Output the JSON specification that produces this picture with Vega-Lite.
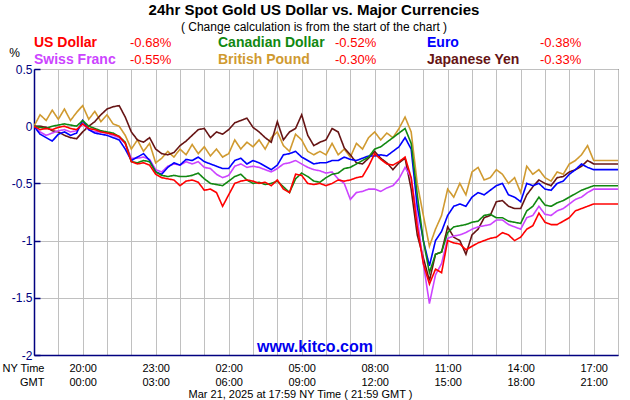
{
"$schema": "https://vega.github.io/schema/vega-lite/v6.json",
"width": 584, "height": 286,
"autosize": {"type": "none"},
"padding": {"left": 34, "top": 69, "right": 12, "bottom": 45},
"background": "white",
"config": {"font": "Liberation Sans", "view": {"stroke": "black", "strokeWidth": 1}, "axisX": {"labelOverlap": false}},
"title": {"text": "24hr Spot Gold US Dollar vs. Major Currencies", "subtitle": "( Change calculation is from the start of the chart )", "fontSize": 15, "fontWeight": "bold", "color": "black", "subtitleFontSize": 12, "subtitleColor": "black", "subtitlePadding": 4, "anchor": "middle", "dx": -12, "dy": 1},
"resolve": {"axis": {"x": "independent", "y": "independent"}},
"layer": [
{
"data": {"values": [
{"c":"British Pound","h":0,"v":0},{"c":"British Pound","h":0.25,"v":0.1},{"c":"British Pound","h":0.5,"v":0.05},{"c":"British Pound","h":0.75,"v":0.14},{"c":"British Pound","h":1,"v":0.06},{"c":"British Pound","h":1.25,"v":0.15},{"c":"British Pound","h":1.5,"v":0.05},{"c":"British Pound","h":1.75,"v":0.12},{"c":"British Pound","h":2,"v":0.18},{"c":"British Pound","h":2.25,"v":0.06},{"c":"British Pound","h":2.5,"v":0.13},{"c":"British Pound","h":2.75,"v":0.04},{"c":"British Pound","h":3,"v":0.1},{"c":"British Pound","h":3.25,"v":0.02},{"c":"British Pound","h":3.5,"v":0.0},{"c":"British Pound","h":3.75,"v":-0.08},
{"c":"British Pound","h":4,"v":-0.2},{"c":"British Pound","h":4.25,"v":-0.12},{"c":"British Pound","h":4.5,"v":-0.22},{"c":"British Pound","h":4.75,"v":-0.15},{"c":"British Pound","h":5,"v":-0.32},{"c":"British Pound","h":5.25,"v":-0.28},{"c":"British Pound","h":5.5,"v":-0.22},{"c":"British Pound","h":5.75,"v":-0.27},{"c":"British Pound","h":6,"v":-0.2},{"c":"British Pound","h":6.25,"v":-0.25},{"c":"British Pound","h":6.5,"v":-0.16},{"c":"British Pound","h":6.75,"v":-0.24},{"c":"British Pound","h":7,"v":-0.18},{"c":"British Pound","h":7.25,"v":-0.26},{"c":"British Pound","h":7.5,"v":-0.2},{"c":"British Pound","h":7.75,"v":-0.27},
{"c":"British Pound","h":8,"v":-0.24},{"c":"British Pound","h":8.25,"v":-0.12},{"c":"British Pound","h":8.5,"v":-0.2},{"c":"British Pound","h":8.75,"v":-0.14},{"c":"British Pound","h":9,"v":-0.18},{"c":"British Pound","h":9.25,"v":-0.12},{"c":"British Pound","h":9.5,"v":-0.2},{"c":"British Pound","h":9.75,"v":-0.1},{"c":"British Pound","h":10,"v":-0.05},{"c":"British Pound","h":10.25,"v":-0.17},{"c":"British Pound","h":10.5,"v":-0.22},{"c":"British Pound","h":10.75,"v":-0.07},{"c":"British Pound","h":11,"v":-0.12},{"c":"British Pound","h":11.25,"v":-0.22},{"c":"British Pound","h":11.5,"v":-0.25},{"c":"British Pound","h":11.75,"v":-0.22},
{"c":"British Pound","h":12,"v":-0.25},{"c":"British Pound","h":12.25,"v":-0.15},{"c":"British Pound","h":12.5,"v":-0.25},{"c":"British Pound","h":12.75,"v":-0.2},{"c":"British Pound","h":13,"v":-0.27},{"c":"British Pound","h":13.25,"v":-0.15},{"c":"British Pound","h":13.5,"v":-0.2},{"c":"British Pound","h":13.75,"v":-0.1},{"c":"British Pound","h":14,"v":-0.05},{"c":"British Pound","h":14.25,"v":-0.12},{"c":"British Pound","h":14.5,"v":-0.06},{"c":"British Pound","h":14.75,"v":-0.1},{"c":"British Pound","h":15,"v":-0.02},{"c":"British Pound","h":15.25,"v":0.08},{"c":"British Pound","h":15.5,"v":-0.05},{"c":"British Pound","h":15.75,"v":-0.5},
{"c":"British Pound","h":16,"v":-0.78},{"c":"British Pound","h":16.25,"v":-1.05},{"c":"British Pound","h":16.5,"v":-0.9},{"c":"British Pound","h":16.75,"v":-0.78},{"c":"British Pound","h":17,"v":-0.55},{"c":"British Pound","h":17.25,"v":-0.62},{"c":"British Pound","h":17.5,"v":-0.5},{"c":"British Pound","h":17.75,"v":-0.6},{"c":"British Pound","h":18,"v":-0.4},{"c":"British Pound","h":18.25,"v":-0.36},{"c":"British Pound","h":18.5,"v":-0.47},{"c":"British Pound","h":18.75,"v":-0.45},{"c":"British Pound","h":19,"v":-0.38},{"c":"British Pound","h":19.25,"v":-0.42},{"c":"British Pound","h":19.5,"v":-0.5},{"c":"British Pound","h":19.75,"v":-0.45},
{"c":"British Pound","h":20,"v":-0.58},{"c":"British Pound","h":20.25,"v":-0.35},{"c":"British Pound","h":20.5,"v":-0.42},{"c":"British Pound","h":20.75,"v":-0.38},{"c":"British Pound","h":21,"v":-0.45},{"c":"British Pound","h":21.25,"v":-0.48},{"c":"British Pound","h":21.5,"v":-0.4},{"c":"British Pound","h":21.75,"v":-0.42},{"c":"British Pound","h":22,"v":-0.33},{"c":"British Pound","h":22.25,"v":-0.3},{"c":"British Pound","h":22.5,"v":-0.25},{"c":"British Pound","h":22.75,"v":-0.17},{"c":"British Pound","h":23,"v":-0.3},{"c":"British Pound","h":24,"v":-0.3},

{"c":"Japanese Yen","h":0,"v":0},{"c":"Japanese Yen","h":0.25,"v":0.0},{"c":"Japanese Yen","h":0.5,"v":-0.01},{"c":"Japanese Yen","h":0.75,"v":-0.04},{"c":"Japanese Yen","h":1,"v":-0.05},{"c":"Japanese Yen","h":1.25,"v":-0.08},{"c":"Japanese Yen","h":1.5,"v":-0.1},{"c":"Japanese Yen","h":1.75,"v":-0.11},{"c":"Japanese Yen","h":2,"v":-0.05},{"c":"Japanese Yen","h":2.25,"v":0.0},{"c":"Japanese Yen","h":2.5,"v":0.04},{"c":"Japanese Yen","h":2.75,"v":0.1},{"c":"Japanese Yen","h":3,"v":0.15},{"c":"Japanese Yen","h":3.25,"v":0.17},{"c":"Japanese Yen","h":3.5,"v":0.18},{"c":"Japanese Yen","h":3.75,"v":0.08},
{"c":"Japanese Yen","h":4,"v":-0.05},{"c":"Japanese Yen","h":4.25,"v":-0.12},{"c":"Japanese Yen","h":4.5,"v":-0.14},{"c":"Japanese Yen","h":4.75,"v":-0.1},{"c":"Japanese Yen","h":5,"v":-0.2},{"c":"Japanese Yen","h":5.25,"v":-0.24},{"c":"Japanese Yen","h":5.5,"v":-0.25},{"c":"Japanese Yen","h":5.75,"v":-0.23},{"c":"Japanese Yen","h":6,"v":-0.17},{"c":"Japanese Yen","h":6.25,"v":-0.13},{"c":"Japanese Yen","h":6.5,"v":-0.08},{"c":"Japanese Yen","h":6.75,"v":-0.03},{"c":"Japanese Yen","h":7,"v":-0.02},{"c":"Japanese Yen","h":7.25,"v":-0.1},{"c":"Japanese Yen","h":7.5,"v":-0.05},{"c":"Japanese Yen","h":7.75,"v":-0.07},
{"c":"Japanese Yen","h":8,"v":-0.03},{"c":"Japanese Yen","h":8.25,"v":0.03},{"c":"Japanese Yen","h":8.5,"v":0.05},{"c":"Japanese Yen","h":8.75,"v":0.07},{"c":"Japanese Yen","h":9,"v":-0.01},{"c":"Japanese Yen","h":9.25,"v":-0.05},{"c":"Japanese Yen","h":9.5,"v":-0.1},{"c":"Japanese Yen","h":9.75,"v":-0.14},{"c":"Japanese Yen","h":10,"v":0.04},{"c":"Japanese Yen","h":10.25,"v":-0.12},{"c":"Japanese Yen","h":10.5,"v":-0.05},{"c":"Japanese Yen","h":10.75,"v":-0.02},{"c":"Japanese Yen","h":11,"v":0.1},{"c":"Japanese Yen","h":11.25,"v":-0.08},{"c":"Japanese Yen","h":11.5,"v":-0.17},{"c":"Japanese Yen","h":11.75,"v":-0.14},
{"c":"Japanese Yen","h":12,"v":-0.12},{"c":"Japanese Yen","h":12.25,"v":-0.02},{"c":"Japanese Yen","h":12.5,"v":-0.05},{"c":"Japanese Yen","h":12.75,"v":-0.19},{"c":"Japanese Yen","h":13,"v":-0.25},{"c":"Japanese Yen","h":13.25,"v":-0.32},{"c":"Japanese Yen","h":13.5,"v":-0.33},{"c":"Japanese Yen","h":13.75,"v":-0.28},{"c":"Japanese Yen","h":14,"v":-0.22},{"c":"Japanese Yen","h":14.25,"v":-0.28},{"c":"Japanese Yen","h":14.5,"v":-0.32},{"c":"Japanese Yen","h":14.75,"v":-0.38},{"c":"Japanese Yen","h":15,"v":-0.32},{"c":"Japanese Yen","h":15.25,"v":-0.28},{"c":"Japanese Yen","h":15.5,"v":-0.55},{"c":"Japanese Yen","h":15.75,"v":-0.95},
{"c":"Japanese Yen","h":16,"v":-1.15},{"c":"Japanese Yen","h":16.25,"v":-1.35},{"c":"Japanese Yen","h":16.5,"v":-1.12},{"c":"Japanese Yen","h":16.75,"v":-1.1},{"c":"Japanese Yen","h":17,"v":-0.88},{"c":"Japanese Yen","h":17.25,"v":-0.97},{"c":"Japanese Yen","h":17.5,"v":-1.0},{"c":"Japanese Yen","h":17.75,"v":-1.12},{"c":"Japanese Yen","h":18,"v":-0.95},{"c":"Japanese Yen","h":18.25,"v":-0.9},{"c":"Japanese Yen","h":18.5,"v":-0.8},{"c":"Japanese Yen","h":18.75,"v":-0.78},{"c":"Japanese Yen","h":19,"v":-0.66},{"c":"Japanese Yen","h":19.25,"v":-0.65},{"c":"Japanese Yen","h":19.5,"v":-0.7},{"c":"Japanese Yen","h":19.75,"v":-0.72},
{"c":"Japanese Yen","h":20,"v":-0.72},{"c":"Japanese Yen","h":20.25,"v":-0.6},{"c":"Japanese Yen","h":20.5,"v":-0.53},{"c":"Japanese Yen","h":20.75,"v":-0.47},{"c":"Japanese Yen","h":21,"v":-0.5},{"c":"Japanese Yen","h":21.25,"v":-0.52},{"c":"Japanese Yen","h":21.5,"v":-0.45},{"c":"Japanese Yen","h":21.75,"v":-0.44},{"c":"Japanese Yen","h":22,"v":-0.4},{"c":"Japanese Yen","h":22.25,"v":-0.38},{"c":"Japanese Yen","h":22.5,"v":-0.35},{"c":"Japanese Yen","h":22.75,"v":-0.3},{"c":"Japanese Yen","h":23,"v":-0.33},{"c":"Japanese Yen","h":24,"v":-0.33},

{"c":"Swiss Franc","h":0,"v":0},{"c":"Swiss Franc","h":0.25,"v":-0.05},{"c":"Swiss Franc","h":0.5,"v":-0.08},{"c":"Swiss Franc","h":0.75,"v":-0.06},{"c":"Swiss Franc","h":1,"v":-0.04},{"c":"Swiss Franc","h":1.25,"v":-0.03},{"c":"Swiss Franc","h":1.5,"v":-0.05},{"c":"Swiss Franc","h":1.75,"v":-0.04},{"c":"Swiss Franc","h":2,"v":0.02},{"c":"Swiss Franc","h":2.25,"v":-0.03},{"c":"Swiss Franc","h":2.5,"v":-0.05},{"c":"Swiss Franc","h":2.75,"v":-0.05},{"c":"Swiss Franc","h":3,"v":-0.06},{"c":"Swiss Franc","h":3.25,"v":-0.08},{"c":"Swiss Franc","h":3.5,"v":-0.1},{"c":"Swiss Franc","h":3.75,"v":-0.15},
{"c":"Swiss Franc","h":4,"v":-0.28},{"c":"Swiss Franc","h":4.25,"v":-0.28},{"c":"Swiss Franc","h":4.5,"v":-0.27},{"c":"Swiss Franc","h":4.75,"v":-0.29},{"c":"Swiss Franc","h":5,"v":-0.38},{"c":"Swiss Franc","h":5.25,"v":-0.4},{"c":"Swiss Franc","h":5.5,"v":-0.35},{"c":"Swiss Franc","h":5.75,"v":-0.33},{"c":"Swiss Franc","h":6,"v":-0.34},{"c":"Swiss Franc","h":6.25,"v":-0.31},{"c":"Swiss Franc","h":6.5,"v":-0.33},{"c":"Swiss Franc","h":6.75,"v":-0.31},{"c":"Swiss Franc","h":7,"v":-0.36},{"c":"Swiss Franc","h":7.25,"v":-0.37},{"c":"Swiss Franc","h":7.5,"v":-0.42},{"c":"Swiss Franc","h":7.75,"v":-0.45},
{"c":"Swiss Franc","h":8,"v":-0.43},{"c":"Swiss Franc","h":8.25,"v":-0.35},{"c":"Swiss Franc","h":8.5,"v":-0.33},{"c":"Swiss Franc","h":8.75,"v":-0.36},{"c":"Swiss Franc","h":9,"v":-0.35},{"c":"Swiss Franc","h":9.25,"v":-0.36},{"c":"Swiss Franc","h":9.5,"v":-0.38},{"c":"Swiss Franc","h":9.75,"v":-0.4},{"c":"Swiss Franc","h":10,"v":-0.37},{"c":"Swiss Franc","h":10.25,"v":-0.33},{"c":"Swiss Franc","h":10.5,"v":-0.32},{"c":"Swiss Franc","h":10.75,"v":-0.3},{"c":"Swiss Franc","h":11,"v":-0.33},{"c":"Swiss Franc","h":11.25,"v":-0.36},{"c":"Swiss Franc","h":11.5,"v":-0.38},{"c":"Swiss Franc","h":11.75,"v":-0.39},
{"c":"Swiss Franc","h":12,"v":-0.41},{"c":"Swiss Franc","h":12.25,"v":-0.4},{"c":"Swiss Franc","h":12.5,"v":-0.46},{"c":"Swiss Franc","h":12.75,"v":-0.5},{"c":"Swiss Franc","h":13,"v":-0.64},{"c":"Swiss Franc","h":13.25,"v":-0.58},{"c":"Swiss Franc","h":13.5,"v":-0.57},{"c":"Swiss Franc","h":13.75,"v":-0.55},{"c":"Swiss Franc","h":14,"v":-0.55},{"c":"Swiss Franc","h":14.25,"v":-0.57},{"c":"Swiss Franc","h":14.5,"v":-0.54},{"c":"Swiss Franc","h":14.75,"v":-0.52},{"c":"Swiss Franc","h":15,"v":-0.46},{"c":"Swiss Franc","h":15.25,"v":-0.36},{"c":"Swiss Franc","h":15.5,"v":-0.45},{"c":"Swiss Franc","h":15.75,"v":-0.8},
{"c":"Swiss Franc","h":16,"v":-1.2},{"c":"Swiss Franc","h":16.25,"v":-1.55},{"c":"Swiss Franc","h":16.5,"v":-1.3},{"c":"Swiss Franc","h":16.75,"v":-1.2},{"c":"Swiss Franc","h":17,"v":-0.98},{"c":"Swiss Franc","h":17.25,"v":-0.96},{"c":"Swiss Franc","h":17.5,"v":-0.95},{"c":"Swiss Franc","h":17.75,"v":-0.93},{"c":"Swiss Franc","h":18,"v":-0.9},{"c":"Swiss Franc","h":18.25,"v":-0.88},{"c":"Swiss Franc","h":18.5,"v":-0.87},{"c":"Swiss Franc","h":18.75,"v":-0.86},{"c":"Swiss Franc","h":19,"v":-0.82},{"c":"Swiss Franc","h":19.25,"v":-0.82},{"c":"Swiss Franc","h":19.5,"v":-0.86},{"c":"Swiss Franc","h":19.75,"v":-0.88},
{"c":"Swiss Franc","h":20,"v":-0.9},{"c":"Swiss Franc","h":20.25,"v":-0.8},{"c":"Swiss Franc","h":20.5,"v":-0.78},{"c":"Swiss Franc","h":20.75,"v":-0.7},{"c":"Swiss Franc","h":21,"v":-0.77},{"c":"Swiss Franc","h":21.25,"v":-0.78},{"c":"Swiss Franc","h":21.5,"v":-0.74},{"c":"Swiss Franc","h":21.75,"v":-0.72},{"c":"Swiss Franc","h":22,"v":-0.68},{"c":"Swiss Franc","h":22.25,"v":-0.64},{"c":"Swiss Franc","h":22.5,"v":-0.62},{"c":"Swiss Franc","h":22.75,"v":-0.58},{"c":"Swiss Franc","h":23,"v":-0.55},{"c":"Swiss Franc","h":24,"v":-0.55},

{"c":"Euro","h":0,"v":0},{"c":"Euro","h":0.25,"v":-0.07},{"c":"Euro","h":0.5,"v":-0.1},{"c":"Euro","h":0.75,"v":-0.13},{"c":"Euro","h":1,"v":-0.07},{"c":"Euro","h":1.25,"v":-0.05},{"c":"Euro","h":1.5,"v":-0.08},{"c":"Euro","h":1.75,"v":-0.06},{"c":"Euro","h":2,"v":0.05},{"c":"Euro","h":2.25,"v":-0.03},{"c":"Euro","h":2.5,"v":-0.06},{"c":"Euro","h":2.75,"v":-0.07},{"c":"Euro","h":3,"v":-0.08},{"c":"Euro","h":3.25,"v":-0.1},{"c":"Euro","h":3.5,"v":-0.12},{"c":"Euro","h":3.75,"v":-0.2},
{"c":"Euro","h":4,"v":-0.3},{"c":"Euro","h":4.25,"v":-0.27},{"c":"Euro","h":4.5,"v":-0.24},{"c":"Euro","h":4.75,"v":-0.3},{"c":"Euro","h":5,"v":-0.4},{"c":"Euro","h":5.25,"v":-0.42},{"c":"Euro","h":5.5,"v":-0.36},{"c":"Euro","h":5.75,"v":-0.32},{"c":"Euro","h":6,"v":-0.34},{"c":"Euro","h":6.25,"v":-0.29},{"c":"Euro","h":6.5,"v":-0.3},{"c":"Euro","h":6.75,"v":-0.27},{"c":"Euro","h":7,"v":-0.31},{"c":"Euro","h":7.25,"v":-0.33},{"c":"Euro","h":7.5,"v":-0.35},{"c":"Euro","h":7.75,"v":-0.37},
{"c":"Euro","h":8,"v":-0.37},{"c":"Euro","h":8.25,"v":-0.3},{"c":"Euro","h":8.5,"v":-0.28},{"c":"Euro","h":8.75,"v":-0.33},{"c":"Euro","h":9,"v":-0.3},{"c":"Euro","h":9.25,"v":-0.32},{"c":"Euro","h":9.5,"v":-0.35},{"c":"Euro","h":9.75,"v":-0.38},{"c":"Euro","h":10,"v":-0.34},{"c":"Euro","h":10.25,"v":-0.25},{"c":"Euro","h":10.5,"v":-0.24},{"c":"Euro","h":10.75,"v":-0.22},{"c":"Euro","h":11,"v":-0.27},{"c":"Euro","h":11.25,"v":-0.3},{"c":"Euro","h":11.5,"v":-0.33},{"c":"Euro","h":11.75,"v":-0.32},
{"c":"Euro","h":12,"v":-0.32},{"c":"Euro","h":12.25,"v":-0.3},{"c":"Euro","h":12.5,"v":-0.3},{"c":"Euro","h":12.75,"v":-0.27},{"c":"Euro","h":13,"v":-0.29},{"c":"Euro","h":13.25,"v":-0.3},{"c":"Euro","h":13.5,"v":-0.28},{"c":"Euro","h":13.75,"v":-0.26},{"c":"Euro","h":14,"v":-0.26},{"c":"Euro","h":14.25,"v":-0.25},{"c":"Euro","h":14.5,"v":-0.26},{"c":"Euro","h":14.75,"v":-0.22},{"c":"Euro","h":15,"v":-0.18},{"c":"Euro","h":15.25,"v":-0.1},{"c":"Euro","h":15.5,"v":-0.2},{"c":"Euro","h":15.75,"v":-0.7},
{"c":"Euro","h":16,"v":-1.0},{"c":"Euro","h":16.25,"v":-1.22},{"c":"Euro","h":16.5,"v":-1.0},{"c":"Euro","h":16.75,"v":-0.92},{"c":"Euro","h":17,"v":-0.78},{"c":"Euro","h":17.25,"v":-0.7},{"c":"Euro","h":17.5,"v":-0.68},{"c":"Euro","h":17.75,"v":-0.7},{"c":"Euro","h":18,"v":-0.62},{"c":"Euro","h":18.25,"v":-0.58},{"c":"Euro","h":18.5,"v":-0.6},{"c":"Euro","h":18.75,"v":-0.56},{"c":"Euro","h":19,"v":-0.52},{"c":"Euro","h":19.25,"v":-0.5},{"c":"Euro","h":19.5,"v":-0.6},{"c":"Euro","h":19.75,"v":-0.62},
{"c":"Euro","h":20,"v":-0.66},{"c":"Euro","h":20.25,"v":-0.5},{"c":"Euro","h":20.5,"v":-0.52},{"c":"Euro","h":20.75,"v":-0.5},{"c":"Euro","h":21,"v":-0.55},{"c":"Euro","h":21.25,"v":-0.56},{"c":"Euro","h":21.5,"v":-0.5},{"c":"Euro","h":21.75,"v":-0.48},{"c":"Euro","h":22,"v":-0.42},{"c":"Euro","h":22.25,"v":-0.38},{"c":"Euro","h":22.5,"v":-0.33},{"c":"Euro","h":22.75,"v":-0.36},{"c":"Euro","h":23,"v":-0.38},{"c":"Euro","h":24,"v":-0.38},

{"c":"Canadian Dollar","h":0,"v":0},{"c":"Canadian Dollar","h":0.25,"v":-0.01},{"c":"Canadian Dollar","h":0.5,"v":-0.02},{"c":"Canadian Dollar","h":0.75,"v":0.0},{"c":"Canadian Dollar","h":1,"v":0.01},{"c":"Canadian Dollar","h":1.25,"v":0.02},{"c":"Canadian Dollar","h":1.5,"v":0.01},{"c":"Canadian Dollar","h":1.75,"v":0.0},{"c":"Canadian Dollar","h":2,"v":0.05},{"c":"Canadian Dollar","h":2.25,"v":0.0},{"c":"Canadian Dollar","h":2.5,"v":-0.02},{"c":"Canadian Dollar","h":2.75,"v":-0.04},{"c":"Canadian Dollar","h":3,"v":-0.05},{"c":"Canadian Dollar","h":3.25,"v":-0.06},{"c":"Canadian Dollar","h":3.5,"v":-0.09},{"c":"Canadian Dollar","h":3.75,"v":-0.14},
{"c":"Canadian Dollar","h":4,"v":-0.31},{"c":"Canadian Dollar","h":4.25,"v":-0.32},{"c":"Canadian Dollar","h":4.5,"v":-0.3},{"c":"Canadian Dollar","h":4.75,"v":-0.31},{"c":"Canadian Dollar","h":5,"v":-0.4},{"c":"Canadian Dollar","h":5.25,"v":-0.43},{"c":"Canadian Dollar","h":5.5,"v":-0.44},{"c":"Canadian Dollar","h":5.75,"v":-0.43},{"c":"Canadian Dollar","h":6,"v":-0.44},{"c":"Canadian Dollar","h":6.25,"v":-0.44},{"c":"Canadian Dollar","h":6.5,"v":-0.43},{"c":"Canadian Dollar","h":6.75,"v":-0.41},{"c":"Canadian Dollar","h":7,"v":-0.46},{"c":"Canadian Dollar","h":7.25,"v":-0.5},{"c":"Canadian Dollar","h":7.5,"v":-0.51},{"c":"Canadian Dollar","h":7.75,"v":-0.52},
{"c":"Canadian Dollar","h":8,"v":-0.48},{"c":"Canadian Dollar","h":8.25,"v":-0.44},{"c":"Canadian Dollar","h":8.5,"v":-0.42},{"c":"Canadian Dollar","h":8.75,"v":-0.47},{"c":"Canadian Dollar","h":9,"v":-0.5},{"c":"Canadian Dollar","h":9.25,"v":-0.49},{"c":"Canadian Dollar","h":9.5,"v":-0.51},{"c":"Canadian Dollar","h":9.75,"v":-0.5},{"c":"Canadian Dollar","h":10,"v":-0.48},{"c":"Canadian Dollar","h":10.25,"v":-0.53},{"c":"Canadian Dollar","h":10.5,"v":-0.58},{"c":"Canadian Dollar","h":10.75,"v":-0.46},{"c":"Canadian Dollar","h":11,"v":-0.41},{"c":"Canadian Dollar","h":11.25,"v":-0.44},{"c":"Canadian Dollar","h":11.5,"v":-0.48},{"c":"Canadian Dollar","h":11.75,"v":-0.49},
{"c":"Canadian Dollar","h":12,"v":-0.45},{"c":"Canadian Dollar","h":12.25,"v":-0.42},{"c":"Canadian Dollar","h":12.5,"v":-0.41},{"c":"Canadian Dollar","h":12.75,"v":-0.37},{"c":"Canadian Dollar","h":13,"v":-0.36},{"c":"Canadian Dollar","h":13.25,"v":-0.33},{"c":"Canadian Dollar","h":13.5,"v":-0.3},{"c":"Canadian Dollar","h":13.75,"v":-0.27},{"c":"Canadian Dollar","h":14,"v":-0.2},{"c":"Canadian Dollar","h":14.25,"v":-0.18},{"c":"Canadian Dollar","h":14.5,"v":-0.14},{"c":"Canadian Dollar","h":14.75,"v":-0.1},{"c":"Canadian Dollar","h":15,"v":-0.06},{"c":"Canadian Dollar","h":15.25,"v":-0.02},{"c":"Canadian Dollar","h":15.5,"v":-0.15},{"c":"Canadian Dollar","h":15.75,"v":-0.6},
{"c":"Canadian Dollar","h":16,"v":-1.0},{"c":"Canadian Dollar","h":16.25,"v":-1.28},{"c":"Canadian Dollar","h":16.5,"v":-1.12},{"c":"Canadian Dollar","h":16.75,"v":-1.1},{"c":"Canadian Dollar","h":17,"v":-0.93},{"c":"Canadian Dollar","h":17.25,"v":-0.88},{"c":"Canadian Dollar","h":17.5,"v":-0.87},{"c":"Canadian Dollar","h":17.75,"v":-0.86},{"c":"Canadian Dollar","h":18,"v":-0.84},{"c":"Canadian Dollar","h":18.25,"v":-0.83},{"c":"Canadian Dollar","h":18.5,"v":-0.78},{"c":"Canadian Dollar","h":18.75,"v":-0.77},{"c":"Canadian Dollar","h":19,"v":-0.8},{"c":"Canadian Dollar","h":19.25,"v":-0.8},{"c":"Canadian Dollar","h":19.5,"v":-0.83},{"c":"Canadian Dollar","h":19.75,"v":-0.84},
{"c":"Canadian Dollar","h":20,"v":-0.85},{"c":"Canadian Dollar","h":20.25,"v":-0.74},{"c":"Canadian Dollar","h":20.5,"v":-0.7},{"c":"Canadian Dollar","h":20.75,"v":-0.62},{"c":"Canadian Dollar","h":21,"v":-0.69},{"c":"Canadian Dollar","h":21.25,"v":-0.7},{"c":"Canadian Dollar","h":21.5,"v":-0.67},{"c":"Canadian Dollar","h":21.75,"v":-0.65},{"c":"Canadian Dollar","h":22,"v":-0.62},{"c":"Canadian Dollar","h":22.25,"v":-0.59},{"c":"Canadian Dollar","h":22.5,"v":-0.56},{"c":"Canadian Dollar","h":22.75,"v":-0.54},{"c":"Canadian Dollar","h":23,"v":-0.52},{"c":"Canadian Dollar","h":24,"v":-0.52},

{"c":"US Dollar","h":0,"v":0},{"c":"US Dollar","h":0.25,"v":-0.03},{"c":"US Dollar","h":0.5,"v":-0.02},{"c":"US Dollar","h":0.75,"v":-0.03},{"c":"US Dollar","h":1,"v":-0.01},{"c":"US Dollar","h":1.25,"v":0.0},{"c":"US Dollar","h":1.5,"v":-0.02},{"c":"US Dollar","h":1.75,"v":-0.03},{"c":"US Dollar","h":2,"v":0.02},{"c":"US Dollar","h":2.25,"v":-0.02},{"c":"US Dollar","h":2.5,"v":-0.03},{"c":"US Dollar","h":2.75,"v":-0.05},{"c":"US Dollar","h":3,"v":-0.06},{"c":"US Dollar","h":3.25,"v":-0.07},{"c":"US Dollar","h":3.5,"v":-0.09},{"c":"US Dollar","h":3.75,"v":-0.15},
{"c":"US Dollar","h":4,"v":-0.31},{"c":"US Dollar","h":4.25,"v":-0.33},{"c":"US Dollar","h":4.5,"v":-0.32},{"c":"US Dollar","h":4.75,"v":-0.34},{"c":"US Dollar","h":5,"v":-0.42},{"c":"US Dollar","h":5.25,"v":-0.45},{"c":"US Dollar","h":5.5,"v":-0.46},{"c":"US Dollar","h":5.75,"v":-0.47},{"c":"US Dollar","h":6,"v":-0.52},{"c":"US Dollar","h":6.25,"v":-0.48},{"c":"US Dollar","h":6.5,"v":-0.47},{"c":"US Dollar","h":6.75,"v":-0.49},{"c":"US Dollar","h":7,"v":-0.56},{"c":"US Dollar","h":7.25,"v":-0.55},{"c":"US Dollar","h":7.5,"v":-0.58},{"c":"US Dollar","h":7.75,"v":-0.7},
{"c":"US Dollar","h":8,"v":-0.6},{"c":"US Dollar","h":8.25,"v":-0.5},{"c":"US Dollar","h":8.5,"v":-0.48},{"c":"US Dollar","h":8.75,"v":-0.47},{"c":"US Dollar","h":9,"v":-0.48},{"c":"US Dollar","h":9.25,"v":-0.5},{"c":"US Dollar","h":9.5,"v":-0.49},{"c":"US Dollar","h":9.75,"v":-0.52},{"c":"US Dollar","h":10,"v":-0.47},{"c":"US Dollar","h":10.25,"v":-0.55},{"c":"US Dollar","h":10.5,"v":-0.58},{"c":"US Dollar","h":10.75,"v":-0.42},{"c":"US Dollar","h":11,"v":-0.43},{"c":"US Dollar","h":11.25,"v":-0.5},{"c":"US Dollar","h":11.5,"v":-0.51},{"c":"US Dollar","h":11.75,"v":-0.5},
{"c":"US Dollar","h":12,"v":-0.52},{"c":"US Dollar","h":12.25,"v":-0.5},{"c":"US Dollar","h":12.5,"v":-0.47},{"c":"US Dollar","h":12.75,"v":-0.48},{"c":"US Dollar","h":13,"v":-0.47},{"c":"US Dollar","h":13.25,"v":-0.45},{"c":"US Dollar","h":13.5,"v":-0.44},{"c":"US Dollar","h":13.75,"v":-0.35},{"c":"US Dollar","h":14,"v":-0.24},{"c":"US Dollar","h":14.25,"v":-0.29},{"c":"US Dollar","h":14.5,"v":-0.33},{"c":"US Dollar","h":14.75,"v":-0.34},{"c":"US Dollar","h":15,"v":-0.31},{"c":"US Dollar","h":15.25,"v":-0.27},{"c":"US Dollar","h":15.5,"v":-0.45},{"c":"US Dollar","h":15.75,"v":-0.88},
{"c":"US Dollar","h":16,"v":-1.2},{"c":"US Dollar","h":16.25,"v":-1.38},{"c":"US Dollar","h":16.5,"v":-1.25},{"c":"US Dollar","h":16.75,"v":-1.28},{"c":"US Dollar","h":17,"v":-1.0},{"c":"US Dollar","h":17.25,"v":-1.02},{"c":"US Dollar","h":17.5,"v":-1.03},{"c":"US Dollar","h":17.75,"v":-1.08},{"c":"US Dollar","h":18,"v":-1.05},{"c":"US Dollar","h":18.25,"v":-1.02},{"c":"US Dollar","h":18.5,"v":-1.0},{"c":"US Dollar","h":18.75,"v":-0.98},{"c":"US Dollar","h":19,"v":-0.97},{"c":"US Dollar","h":19.25,"v":-0.93},{"c":"US Dollar","h":19.5,"v":-0.95},{"c":"US Dollar","h":19.75,"v":-1.0},
{"c":"US Dollar","h":20,"v":-0.97},{"c":"US Dollar","h":20.25,"v":-0.9},{"c":"US Dollar","h":20.5,"v":-0.87},{"c":"US Dollar","h":20.75,"v":-0.76},{"c":"US Dollar","h":21,"v":-0.84},{"c":"US Dollar","h":21.25,"v":-0.86},{"c":"US Dollar","h":21.5,"v":-0.86},{"c":"US Dollar","h":21.75,"v":-0.83},{"c":"US Dollar","h":22,"v":-0.8},{"c":"US Dollar","h":22.25,"v":-0.74},{"c":"US Dollar","h":22.5,"v":-0.72},{"c":"US Dollar","h":22.75,"v":-0.7},{"c":"US Dollar","h":23,"v":-0.68},{"c":"US Dollar","h":24,"v":-0.68}
]},
"transform": [{"lookup": "c", "from": {"data": {"values": [
{"c":"US Dollar","chg":"-0.68%"},{"c":"Canadian Dollar","chg":"-0.52%"},{"c":"Euro","chg":"-0.38%"},{"c":"Swiss Franc","chg":"-0.55%"},{"c":"British Pound","chg":"-0.30%"},{"c":"Japanese Yen","chg":"-0.33%"}
]}, "key": "c", "fields": ["chg"]}}],
"mark": {"type": "line", "strokeWidth": 1.6, "clip": true},
"encoding": {
"x": {"field": "h", "type": "quantitative", "scale": {"domain": [0, 24], "nice": false, "zero": false},
 "axis": {"values": [0,1,2,3,4,5,6,7,8,9,10,11,12,13,14,15,16,17,18,19,20,21,22,23,24],
  "grid": true, "gridColor": "#C0C0C0", "gridWidth": 1, "ticks": false,
  "domainColor": "#000080", "domainWidth": 1.5,
  "labelExpr": "datum.value == 0 ? ['NY Time', 'GMT'] : (((datum.value + 1) % 3 == 0 && datum.value < 24) ? [((18 + datum.value) % 24 < 10 ? '0' : '') + ((18 + datum.value) % 24) + ':00', ((22 + datum.value) % 24 < 10 ? '0' : '') + ((22 + datum.value) % 24) + ':00'] : '')",
  "labelAlign": {"condition": {"test": "datum.value == 0", "value": "right"}, "value": "center"},
  "labelOffset": {"condition": {"test": "datum.value == 0", "value": 10}, "value": 0},
  "labelFlush": false, "labelOverlap": false, "labelBound": false,
  "labelFontSize": 11, "labelColor": "black", "labelLineHeight": 14, "labelPadding": 7, "labelBaseline": "top",
  "title": "Mar 21, 2025 at 17:59 NY Time ( 21:59 GMT )", "titleFontSize": 11, "titleFontWeight": "normal", "titleColor": "black",
  "titleX": 266, "titleY": 39, "titleAlign": "center", "titleBaseline": "middle"}},
"y": {"field": "v", "type": "quantitative", "scale": {"domain": [-2, 0.5], "nice": false, "zero": false},
 "axis": {"values": [-2, -1.5, -1, -0.5, 0, 0.5], "labelExpr": "'' + datum.value",
  "grid": true, "gridColor": "#C0C0C0", "gridWidth": 1,
  "tickColor": "#000080", "tickSize": -6, "tickWidth": 1.5, "labelPadding": 8,
  "labelColor": "#000080", "labelFontSize": 12, "domainColor": "#000080", "domainWidth": 1.5,
  "labelFlush": false, "labelOverlap": false, "labelBound": false,
  "title": "%", "titleAngle": 0, "titleX": -20, "titleY": -17, "titleAlign": "center", "titleBaseline": "middle",
  "titleFontSize": 12, "titleFontWeight": "normal", "titleColor": "black"}},
"color": {"field": "c", "type": "nominal",
 "scale": {"domain": ["US Dollar", "Swiss Franc", "Canadian Dollar", "British Pound", "Euro", "Japanese Yen"],
  "range": ["#FF0000", "#CC44FF", "#118811", "#D09A30", "#0000FF", "#661414"]},
 "legend": {"orient": "none", "legendX": -14, "legendY": -33, "columns": 3, "columnPadding": 88, "rowPadding": 3, "gridAlign": "each",
  "symbolSize": 0, "symbolOpacity": 0, "symbolStrokeWidth": 0, "labelOffset": 0, "labelFontSize": 14, "labelFontWeight": "bold", "labelLimit": 300,
  "title": null, "padding": 0,
  "encode": {"labels": {"update": {"fill": {"scale": "color", "field": "value"}}}}}},
"strokeDash": {"field": "chg", "type": "nominal",
 "scale": {"domain": ["-0.68%", "-0.55%", "-0.52%", "-0.30%", "-0.38%", "-0.33%"], "range": [[1,0],[1,0],[1,0],[1,0],[1,0],[1,0]]},
 "legend": {"orient": "none", "legendX": 83, "legendY": -33, "columns": 3, "columnPadding": 150, "rowPadding": 3, "gridAlign": "each",
  "symbolSize": 0, "symbolOpacity": 0, "symbolStrokeWidth": 0, "labelOffset": 0, "labelFontSize": 13, "labelColor": "#FF0000",
  "title": null, "padding": 0}}
}
},
{
"data": {"values": [{"site": "www.kitco.com"}]},
"mark": {"type": "text", "fontSize": 16, "fontWeight": "bold", "color": "#0000EE"},
"encoding": {"text": {"field": "site"}, "x": {"datum": 11.55, "type": "quantitative", "axis": null}, "y": {"datum": -1.93, "type": "quantitative", "axis": null}}
}
]
}
